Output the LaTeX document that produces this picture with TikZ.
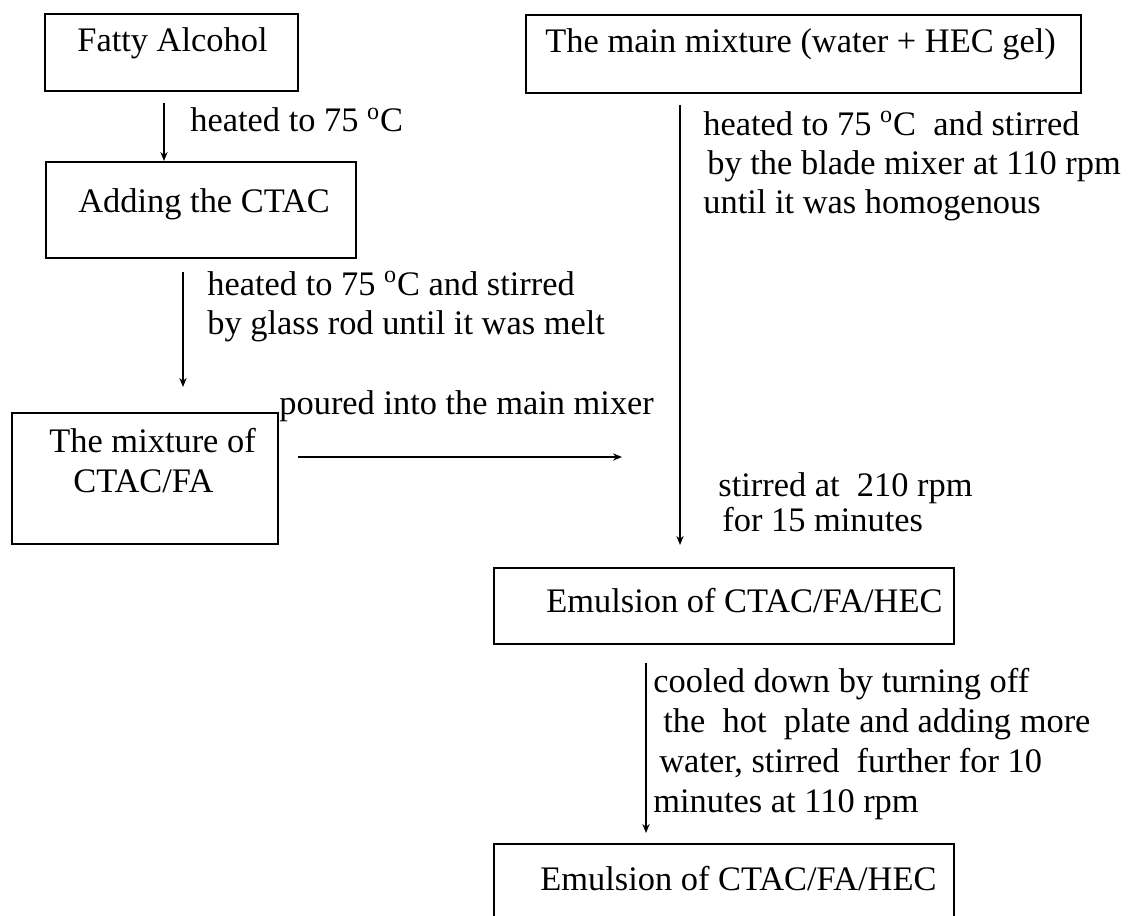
\documentclass[tikz,border=0pt]{standalone}
\usepackage{fontspec}
\setmainfont{Liberation Serif}
\usetikzlibrary{arrows.meta}
\newdimen\pxu \pxu=0.5pt
\newcommand{\degC}{\textsuperscript{o}C}
\begin{document}
\begin{tikzpicture}[x=0.5pt,y=-0.5pt,
  box/.style={draw, line width=1pt, inner sep=0pt, anchor=north west},
  txt/.style={anchor=base west, inner sep=0pt, font=\fontsize{17.2}{19.8}\selectfont},
  flow/.style={line width=0.75pt, -{Stealth[length=4.5pt,width=3.6pt]}},
]
\useasboundingbox (0,0) rectangle (1133,915);
\clip (0,0) rectangle (1133,915);

% process boxes
\node[box, minimum width=253\pxu, minimum height=77\pxu] (fa)   at (44,13)  {};
\node[box, minimum width=310\pxu, minimum height=96\pxu] (ctac) at (45,161) {};
\node[box, minimum width=266\pxu, minimum height=131\pxu] (mix) at (11,412) {};
\node[box, minimum width=555\pxu, minimum height=78\pxu] (main) at (525,14) {};
\node[box, minimum width=460\pxu, minimum height=76\pxu] (emA) at (493,567) {};
\node[box, minimum width=460\pxu, minimum height=120\pxu] (emB) at (493,843) {};

% box captions
\node[txt] (faT)   at (77,52)   {Fatty Alcohol};
\node[txt] (ctacT) at (78,212)  {Adding the CTAC};
\node[txt] (mixT1) at (49,452)  {The mixture of};
\node[txt] (mixT2) at (73,492)  {CTAC/FA};
\node[txt] (mainT) at (545,53)  {The main mixture (water + HEC gel)};
\node[txt] (emAT)  at (546,612) {Emulsion of CTAC/FA/HEC};
\node[txt] (emBT)  at (540,890) {Emulsion of CTAC/FA/HEC};

% arrow end points
\coordinate (a1s) at (164,103);
\coordinate (a2s) at (183,272);
\coordinate (a2e) at (183,387);
\coordinate (a3s) at (298,457);
\coordinate (a3e) at (622,457);
\coordinate (a4s) at (680,105);
\coordinate (a4e) at (680,545);
\coordinate (a5s) at (646,663);
\coordinate (a5e) at (646,833);

% connectors
\draw[flow] (a1s) -- (ctac.north -| a1s);
\draw[flow] (a2s) -- (a2e);
\draw[flow] (a3s) -- (a3e);
\draw[flow] (a4s) -- (a4e);
\draw[flow] (a5s) -- (a5e);

% step notes
\node[txt] (n1)  at (190,132) {heated to 75 \degC};
\node[txt] (n2a) at (207,295) {heated to 75 \degC\ and stirred};
\node[txt] (n2b) at (207,334) {by glass rod until it was melt};
\node[txt] (n3)  at (279,414) {poured into the main mixer};
\node[txt] (n4a) at (703,135) {heated to 75 \degC\ \ and stirred};
\node[txt] (n4b) at (707,174) {by the blade mixer at 110 rpm};
\node[txt] (n4c) at (703,213) {until it was homogenous};
\node[txt] (n5a) at (718,496) {stirred at\ \ 210 rpm};
\node[txt] (n5b) at (722,531) {for 15 minutes};
\node[txt] (n6a) at (653,692) {cooled down by turning off};
\node[txt] (n6b) at (663,732) {the\ \ hot\ \ plate and adding more};
\node[txt] (n6c) at (659,772) {water, stirred\ \ further for 10};
\node[txt] (n6d) at (653,812) {minutes at 110 rpm};
\end{tikzpicture}
\end{document}
